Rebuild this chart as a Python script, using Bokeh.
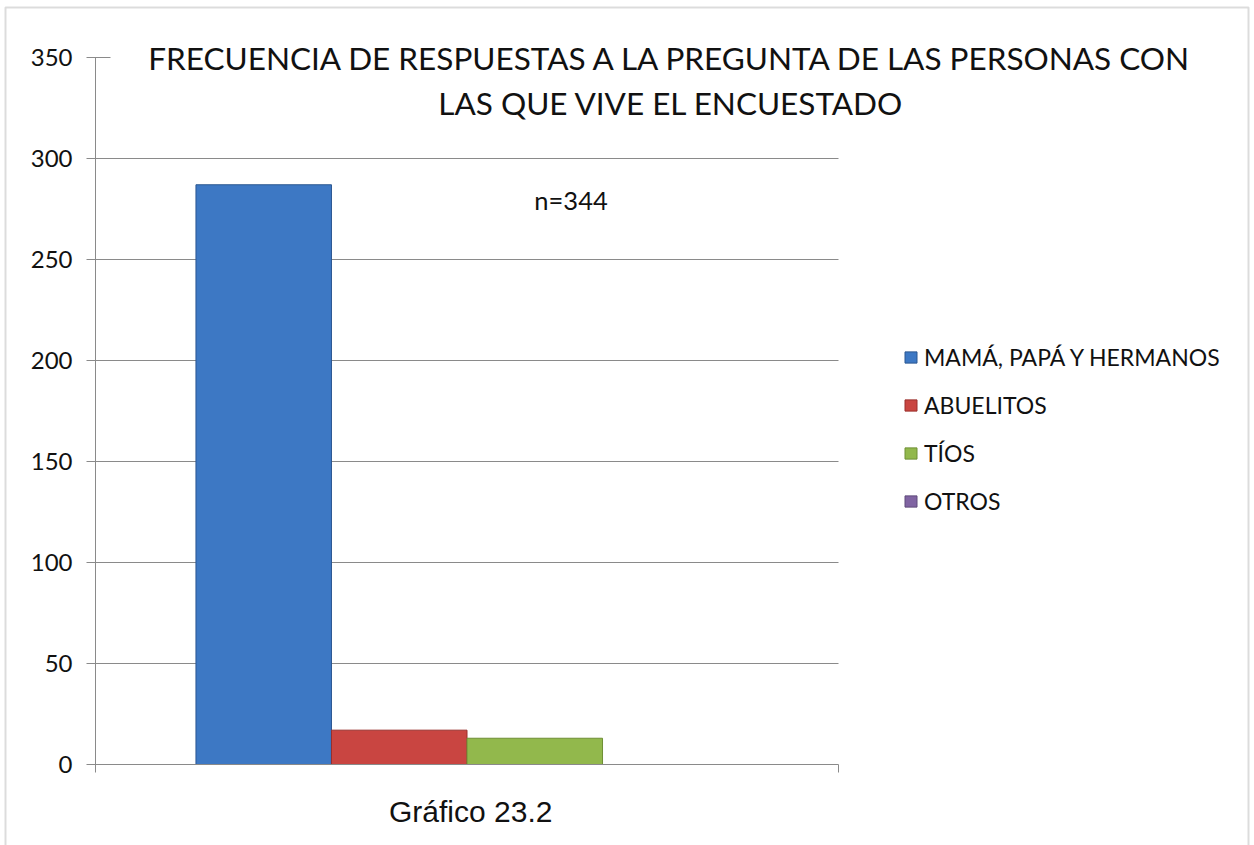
from bokeh.plotting import figure
from bokeh.models import (Range1d, FixedTicker, Label, Legend, LegendItem,
                          BoxAnnotation, ColumnDataSource)
from bokeh.embed import file_html
from bokeh.resources import INLINE

# ---- data ----
series = ["MAMÁ, PAPÁ Y HERMANOS", "ABUELITOS", "TÍOS", "OTROS"]
counts = [287, 17, 13, 0]
colors = ["#3D78C4", "#C94541", "#92B84C", "#8064A2"]
edge_colors = ["#2B5791", "#9A2F2C", "#6E8F34", "#5E4A7A"]
y_ticks = [0, 50, 100, 150, 200, 250, 300, 350]
title_lines = ["FRECUENCIA DE RESPUESTAS A LA PREGUNTA DE LAS PERSONAS CON",
               "LAS QUE VIVE EL ENCUESTADO"]
note = "n=344"
caption = "Gráfico 23.2"

# ---- layout (pixels) ----
W, H = 1254, 845
FL, FR, FT, FB = 95, 838, 57, 764          # plot area in the picture
ymax = 350
px_x = FR - FL
px_y = (FB - FT) / ymax

p = figure(width=W, height=H, output_backend="svg", toolbar_location=None,
           x_range=Range1d(-FL / px_x, 1 + (W - FR) / px_x),
           y_range=Range1d(-(H - FB) / px_y, ymax + FT / px_y),
           min_border=0)
p.title.visible = False
p.background_fill_color = "white"
p.border_fill_color = "white"
p.outline_line_color = None

# gridlines (from tick values, across the plot area 0..1)
grid_src = ColumnDataSource(dict(y=y_ticks[1:-1],
                                 x0=[0] * (len(y_ticks) - 2),
                                 x1=[1] * (len(y_ticks) - 2)))
p.segment(x0="x0", x1="x1", y0="y", y1="y", source=grid_src,
          line_color="#8A8A8A", line_width=1)

bar_w = 0.1824
group_center = 0.5
items = []
for i, (s, c) in enumerate(zip(series, counts)):
    x = group_center + (i - 1.5) * bar_w
    src = ColumnDataSource(dict(x=[x], top=[c]))
    r = p.vbar(x="x", top="top", width=bar_w, source=src,
               fill_color=colors[i], line_color=edge_colors[i], line_width=1)
    items.append(LegendItem(label=s, renderers=[r]))

# axes
ya = p.yaxis[0]
ya.fixed_location = 0
ya.bounds = (0, ymax)
ya.ticker = FixedTicker(ticks=y_ticks)
ya.axis_line_color = "#8A8A8A"
ya.major_tick_line_color = "#8A8A8A"
ya.major_tick_out = 9
ya.major_tick_in = 15
ya.minor_tick_line_color = None
ya.major_label_text_font = "Lato"
ya.major_label_text_font_size = "24px"
ya.major_label_text_color = "#111111"
ya.major_label_standoff = 14

xa = p.xaxis[0]
xa.fixed_location = 0
xa.bounds = (0, 1)
xa.ticker = FixedTicker(ticks=[0, 1])
xa.axis_line_color = "#8A8A8A"
xa.major_tick_line_color = "#8A8A8A"
xa.major_tick_out = 8
xa.major_tick_in = 0
xa.minor_tick_line_color = None
xa.major_label_text_font_size = "0px"
xa.major_label_text_color = None

p.xgrid.visible = False
p.ygrid.visible = False

# texts
p.add_layout(Label(x=0.775, y=349.8, text=title_lines[0], text_align="center",
                   text_baseline="middle", text_font="Lato",
                   text_font_size="31.5px", text_color="#111111"))
p.add_layout(Label(x=0.775, y=327.5, text=title_lines[1], text_align="center",
                   text_baseline="middle", text_font="Lato",
                   text_font_size="31.5px", text_color="#111111"))
p.add_layout(Label(x=0.640, y=279.7, text=note, text_align="center",
                   text_baseline="middle", text_font="Lato",
                   text_font_size="25.5px", text_color="#111111"))
p.add_layout(Label(x=0.505, y=-23.3, text=caption, text_align="center",
                   text_baseline="middle", text_font="Liberation Sans",
                   text_font_size="30px", text_color="#111111"))

legend = Legend(items=items, location=(903, 330))
legend.label_text_font = "Lato"
legend.label_text_font_size = "23px"
legend.label_text_color = "#111111"
legend.glyph_width = 15
legend.glyph_height = 14
legend.spacing = 20
legend.label_standoff = 6
legend.border_line_color = None
legend.background_fill_alpha = 0
legend.padding = 0
legend.margin = 0
p.add_layout(legend, "center")

# outer chart border
p.add_layout(BoxAnnotation(left=(5 - FL) / px_x, right=(1248 - FL) / px_x,
                           top=(FB - 7) / px_y, bottom=-(H - FB + 20) / px_y,
                           fill_color=None, line_color="#8C8C8C", line_width=2))

open("out.html", "w").write(file_html(p, INLINE))
